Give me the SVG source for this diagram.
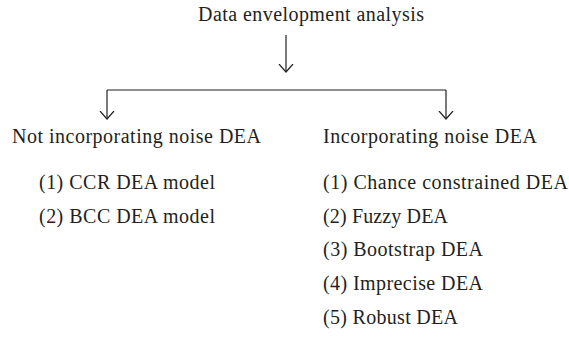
<svg xmlns="http://www.w3.org/2000/svg" width="569" height="350" viewBox="0 0 569 350">
<style>
text{font-family:"Liberation Serif","Times New Roman",serif;font-size:20px;fill:#231f20}
.ln{fill:none;stroke:#231f20;stroke-width:1.2}
</style>
<defs>
<marker id="ah" viewBox="-8 -8 10 16" markerWidth="10" markerHeight="16" refX="0" refY="0" orient="auto" markerUnits="userSpaceOnUse">
<path d="M-8,-7 L0,0 L-8,7" fill="none" stroke="#231f20" stroke-width="1.2"/>
</marker>
</defs>
<rect width="569" height="350" fill="#fff"/>
<g id="connectors">
<path class="ln" d="M286,35 V72" marker-end="url(#ah)"/>
<path class="ln" d="M107,90 H446"/>
<path class="ln" d="M107,90 V119" marker-end="url(#ah)"/>
<path class="ln" d="M446,90 V119" marker-end="url(#ah)"/>
</g>
<g id="root"><text x="198" y="21" textLength="226" lengthAdjust="spacing">Data envelopment analysis</text></g>
<g id="left">
<text x="12" y="143" textLength="249" lengthAdjust="spacing">Not incorporating noise DEA</text>
<text x="39" y="189" textLength="176" lengthAdjust="spacing">(1) CCR DEA model</text>
<text x="39" y="223" textLength="176" lengthAdjust="spacing">(2) BCC DEA model</text>
</g>
<g id="right">
<text x="323" y="143" textLength="214" lengthAdjust="spacing">Incorporating noise DEA</text>
<text x="323" y="189" textLength="245" lengthAdjust="spacing">(1) Chance constrained DEA</text>
<text x="323" y="223" textLength="125" lengthAdjust="spacing">(2) Fuzzy DEA</text>
<text x="323" y="256" textLength="160" lengthAdjust="spacing">(3) Bootstrap DEA</text>
<text x="323" y="290" textLength="160" lengthAdjust="spacing">(4) Imprecise DEA</text>
<text x="323" y="324" textLength="135" lengthAdjust="spacing">(5) Robust DEA</text>
</g>
</svg>
